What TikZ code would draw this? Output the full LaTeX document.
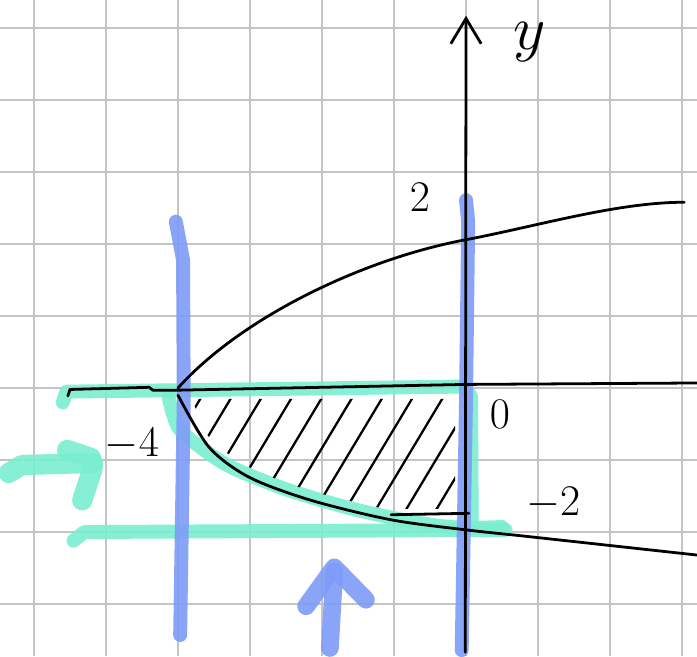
\documentclass[tikz,border=0pt]{standalone}
\usepackage{xcolor}
\usepackage{tikz}
\usetikzlibrary{arrows.meta, calc}

\definecolor{hlgreen}{RGB}{122,238,208}
\definecolor{hlblue}{RGB}{126,156,248}
\definecolor{gridgray}{RGB}{196,196,196}

\begin{document}
\begin{tikzpicture}[
    marker/.style={line width=5.5pt, line cap=round, line join=round, opacity=0.9},
    pen/.style={line width=1.1pt, line cap=round, line join=round},
    lbl/.style={font=\fontsize{17}{19}\selectfont, inner sep=0pt}]
      \useasboundingbox (-6.472,-3.722) rectangle (3.208,5.389);
      \fill[white] (-6.472,-3.722) rectangle (3.208,5.389);
      \draw[gridgray, line width=0.9pt] (-6.472,-3.722) grid (3.208,5.389);

      \draw[marker, hlgreen] (-5.6,-0.2) -- (-5.55,-0.05) -- (-0.02,0.02) -- (0.07,-0.12) -- (0.08,-1.95);
      \draw[marker, hlgreen] plot[smooth] coordinates {(-4.13,-0.13) (-4,-0.54) (-3.69,-0.82) (-3.26,-1.1) (-2.46,-1.42) (-1.53,-1.69) (-0.61,-1.88) (-0.06,-1.94) (0.5,-1.93)};
      \draw[marker, hlgreen] (-5.45,-2.12) -- (-5.3,-2.0) -- (0.55,-1.97);
      \draw[marker, hlgreen, line width=8pt] (-6.35,-1.18) -- (-6.17,-1.07) -- (-5.18,-1.04);
      \draw[marker, hlgreen, line width=8pt] (-5.54,-0.86) -- (-5.21,-0.97) -- (-5.18,-1.1) -- (-5.33,-1.56);

      \draw[marker, hlblue] (-4.03,2.31) -- (-3.93,1.78) -- (-3.92,-0.17) -- (-3.97,-3.43);
      \draw[marker, hlblue] (0,2.61) -- (0.03,2.31) -- (0,-0.17) -- (-0.06,-3.64);
      \draw[marker, hlblue, line width=7pt] (-1.89,-3.61) -- (-1.83,-2.55);
      \draw[marker, hlblue, line width=7pt] (-2.22,-3.03) -- (-1.83,-2.49) -- (-1.39,-2.94);

      \draw[pen] (-5.53,-0.11) -- (-5.5,-0.02) -- (-4.4,0.01) -- (-4.35,-0.03) -- (-4,-0.03) -- (0,0.05) -- (3.21,0.07);
      \draw[pen, -{Straight Barb[length=10pt, width=12pt]}] (-0.01,-3.67) -- (0,5.17);
      \draw[pen] (-4,0) .. controls (-3.1,1.0) and (-1.4,1.8) .. (0,2.06) .. controls (1.0,2.25) and (2.1,2.58) .. (3.03,2.58);
      \draw[pen] plot[smooth] coordinates {(-4,-0.1) (-3.57,-0.82) (-3.01,-1.24) (-2.15,-1.56) (-1.04,-1.83) (0,-1.97) (0.93,-2.07) (3.21,-2.32)};
      \draw[pen] (-1.04,-1.76) -- (0.04,-1.74);

      \begin{scope}
        \clip (-3.8,-0.15) -- (-0.15,-0.15) -- (-0.15,-1.68) -- (-1.0,-1.68)
          -- plot[smooth] coordinates {(-1.04,-1.7) (-2.15,-1.43) (-3.01,-1.1) (-3.57,-0.68) (-3.8,-0.15)} -- cycle;
        \foreach \h in {-3.6,-3.18,...,0.7}
          \draw[pen, line width=0.9pt] (\h,0) -- ++(-1.05,-1.75);
      \end{scope}

      \node[lbl] (ytick2) at (-0.64,2.65) {$2$};
      \node[lbl] (origin) at (0.47,-0.36) {$0$};
      \node[lbl] (ytickm2) at (1.21,-1.6) {$-2$};
      \node[lbl] (xtickm4) at (-4.64,-0.78) {$-4$};
      \node[lbl, font=\fontsize{28}{30}\selectfont] (ylabel) at (0.88,4.8) {$y$};
    \end{tikzpicture}
\end{document}
